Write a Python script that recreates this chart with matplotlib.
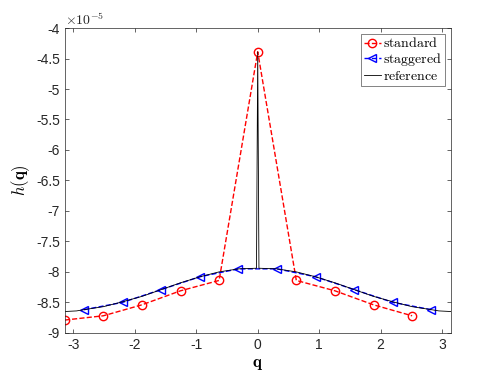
import numpy as np
import matplotlib.pyplot as plt

plt.rcParams['mathtext.fontset'] = 'cm'
plt.rcParams['font.family'] = ['Liberation Sans', 'DejaVu Sans']

# standard scheme, values in 1e-5
q_std = [-3.1416, -2.5133, -1.885, -1.2566, -0.6283, 0.0, 0.6283, 1.2566, 1.885, 2.5133]
h_std = [-8.79, -8.72, -8.54, -8.31, -8.14, -4.39, -8.14, -8.31, -8.54, -8.72]

# staggered scheme
q_stg = [-2.8274, -2.1991, -1.5708, -0.9425, -0.3142, 0.3142, 0.9425, 1.5708, 2.1991, 2.8274]
h_stg = [-8.62, -8.50, -8.29, -8.08, -7.95, -7.95, -8.08, -8.29, -8.50, -8.62]

# reference curve
q_ref = [-3.1416, -2.95, -2.83, -2.51, -2.20, -1.88, -1.57, -1.26, -0.94, -0.63, -0.31,
         -0.02, 0.0, 0.02, 0.31, 0.63, 0.94, 1.26, 1.57, 1.88, 2.20, 2.51, 2.83, 2.95, 3.1416]
h_ref = [-8.65, -8.64, -8.62, -8.57, -8.49, -8.40, -8.29, -8.18, -8.08, -8.00, -7.95,
         -7.94, -4.39, -7.94, -7.95, -8.00, -8.08, -8.18, -8.29, -8.40, -8.49, -8.57, -8.62, -8.64, -8.65]

fig = plt.figure(figsize=(4.98, 3.74), dpi=100)
ax = fig.add_axes([0.13, 0.11, 0.775, 0.815])

ax.plot(q_std, h_std, '--o', color='#ff0000', lw=1.0, ms=6, mfc='none', mew=1.0, label=r'$\mathrm{standard}$')
ax.plot(q_stg, h_stg, '--<', color='#0000ff', lw=1.0, ms=6, mfc='none', mew=1.0, label=r'$\mathrm{staggered}$')
ax.plot(q_ref, h_ref, '-', color='black', lw=0.6, label=r'$\mathrm{reference}$')

ax.set_xlim(-np.pi, np.pi)
ax.set_ylim(-9, -4)
ax.set_xticks([-3, -2, -1, 0, 1, 2, 3])
ax.set_xticklabels(['-3', '-2', '-1', '0', '1', '2', '3'])
yt = [-9, -8.5, -8, -7.5, -7, -6.5, -6, -5.5, -5, -4.5, -4]
ax.set_yticks(yt)
ax.set_yticklabels(['%g' % v for v in yt])

for s in ax.spines.values():
    s.set_color('#262626')
    s.set_linewidth(0.5)
ax.tick_params(direction='in', top=True, right=True, length=3, width=0.5,
               color='#262626', labelcolor='#262626', labelsize=10)

ax.text(0.0, 1.0, r'$\times10^{-5}$', transform=ax.transAxes, fontsize=10,
        color='#262626', ha='left', va='bottom')

ax.set_xlabel(r'$\mathbf{q}$', fontsize=12)
ax.set_ylabel(r'$h(\mathbf{q})$', fontsize=12)
ax.xaxis.set_label_coords(0.5, -0.078)
ax.yaxis.set_label_coords(-0.085, 0.5)

leg = ax.legend(loc='upper right', fontsize=10, frameon=True, fancybox=False,
                borderpad=0.2, labelspacing=0.05, handlelength=1.2, handletextpad=0.2,
                borderaxespad=0.4)
leg.get_frame().set_edgecolor('#262626')
leg.get_frame().set_linewidth(0.5)

fig.savefig('out.png', dpi=100)
